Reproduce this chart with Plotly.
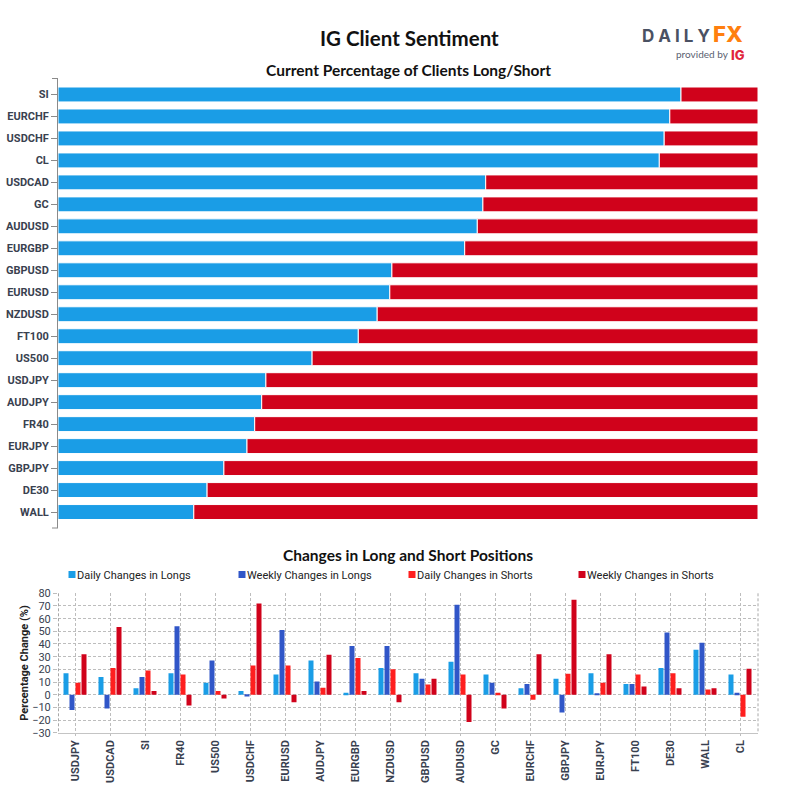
import plotly.graph_objects as go

sent_cats = ["SI","EURCHF","USDCHF","CL","USDCAD","GC","AUDUSD","EURGBP","GBPUSD","EURUSD",
             "NZDUSD","FT100","US500","USDJPY","AUDJPY","FR40","EURJPY","GBPJPY","DE30","WALL"]
long_pct = [89,87.4,86.6,85.9,61.1,60.7,59.9,58.1,47.7,47.4,45.6,42.9,36.3,29.7,29.1,28.1,27,23.7,21.3,19.4]
short_pct = [100-v for v in long_pct]

chg_cats = ["USDJPY","USDCAD","SI","FR40","US500","USDCHF","EURUSD","AUDJPY","EURGBP","NZDUSD",
            "GBPUSD","AUDUSD","GC","EURCHF","GBPJPY","EURJPY","FT100","DE30","WALL","CL"]
daily_longs  = [17,14,5,17,9.5,3,16,27,1.5,21,17,26,16,5,12.5,17,8.5,21,35.5,16]
weekly_longs = [-12,-11,14,54,27,-1.5,51,10.5,38.5,38.5,12.5,71,9.5,8.5,-14,1,8.5,49,41,1.5]
daily_shorts = [9.5,21,19,16,3,23,23,5.5,29,20,8,16,1.5,-4,16.5,9.5,16,17,4,-17.5]
weekly_shorts= [32,53.5,3,-8.5,-3,72,-6,31.5,3,-6,12.5,-21.5,-11,32,75,32,6.5,5,5,20.5]

BLUE, DBLUE, RED, DRED = "#1a9de6", "#3056c8", "#ff1f1f", "#d0021b"
INK = "#39414f"
LABEL = "Roboto, sans-serif"
HEAD = "Lato, sans-serif"
W = H = 800.0

fig = go.Figure()
fig.add_bar(y=sent_cats, x=long_pct, orientation="h", marker=dict(color=BLUE, line=dict(color="white", width=1)),
            xaxis="x", yaxis="y", showlegend=False, name="Long")
fig.add_bar(y=sent_cats, x=short_pct, orientation="h", marker=dict(color=DRED, line=dict(color="white", width=1)),
            xaxis="x", yaxis="y", showlegend=False, name="Short")

for i, (name, vals, col) in enumerate([("Daily Changes in Longs", daily_longs, BLUE),
                        ("Weekly Changes in Longs", weekly_longs, DBLUE),
                        ("Daily Changes in Shorts", daily_shorts, RED),
                        ("Weekly Changes in Shorts", weekly_shorts, DRED)]):
    fig.add_trace(go.Bar(x=chg_cats, y=vals, name=name, marker=dict(color=col, line=dict(width=0)),
                         xaxis="x2", yaxis="y2", offsetgroup=name, width=5/35.0, offset=(-12 + 6*i)/35.0))

def px(v):
    return v / W
def py(v):
    return 1 - v / H

GRID = "#bdbdbd"
seg = dict(type="line", xref="paper", yref="paper")
shapes = [
    dict(seg, x0=px(58), x1=px(52), y0=py(78.5), y1=py(78.5), line=dict(color="#8a8a8a", width=1)),
    dict(seg, x0=px(58), x1=px(52), y0=py(528), y1=py(528), line=dict(color="#8a8a8a", width=1)),
    dict(seg, x0=px(58.5), x1=px(58.5), y0=py(593.3), y1=py(732.7), line=dict(color="#a8a8a8", width=1, dash="3px,2px")),
    dict(seg, x0=px(758), x1=px(758), y0=py(593.3), y1=py(732.7), line=dict(color="#a8a8a8", width=1, dash="3px,2px")),
]

def note(text, x, y, size, color="#111111", family=HEAD, weight=700, anchor="center"):
    return dict(text=text, x=px(x), y=py(y), xref="paper", yref="paper", showarrow=False,
                xanchor=anchor, yanchor="middle", font=dict(size=size, color=color, family=family, weight=weight))

annotations = [
    note("IG Client Sentiment", 409, 38, 20.5),
    note("Current Percentage of Clients Long/Short", 408, 70, 15.5),
    note("Changes in Long and Short Positions", 408, 555, 15.5),
    note("D A I L Y", 640, 36, 17, "#4a5163", "Inter, sans-serif", 700, "left"),
    note("FX", 711, 34, 22, "#ff7f0e", "Inter, sans-serif", 800, "left"),
    note("provided by", 674, 54, 10, "#5a6170", "Lato, sans-serif", 400, "left"),
    note("IG", 729, 55, 13, "#e0263c", "Inter, sans-serif", 800, "left"),
]

fig.update_layout(
    width=800, height=800, margin=dict(l=0, r=0, t=0, b=0), paper_bgcolor="white", plot_bgcolor="white",
    barmode="relative", bargap=0.32, shapes=shapes, annotations=annotations,
    font=dict(family=LABEL, color=INK),
    legend=dict(orientation="h", x=px(37), y=py(560), xanchor="left", yanchor="top",
                entrywidth=125, entrywidthmode="pixels", itemwidth=30,
                font=dict(size=11, color="#222222", family=LABEL), bgcolor="rgba(0,0,0,0)",
                itemclick=False, itemdoubleclick=False),
    xaxis=dict(domain=[px(58), px(758)], range=[0, 100], anchor="y", visible=False, fixedrange=True, automargin=False),
    yaxis=dict(domain=[py(528), py(78.5)], range=[19.727, -0.727], anchor="x", type="category",
               categoryorder="array", categoryarray=sent_cats, ticks="outside", ticklen=6, tickcolor="#8a8a8a",
               showline=True, linecolor="#8a8a8a", linewidth=1, showgrid=False, zeroline=False, automargin=False,
               tickfont=dict(size=11, color=INK, family=LABEL, weight=700), fixedrange=True),
    xaxis2=dict(domain=[px(58), px(758)], anchor="y2", type="category", categoryorder="array", categoryarray=chg_cats,
                tickangle=-90, ticks="outside", ticklen=2, tickcolor=GRID, showline=True, linecolor="#c4c4c4", linewidth=1,
                showgrid=True, gridcolor=GRID, griddash="3px,2px", gridwidth=1, automargin=False,
                tickfont=dict(size=11, color=INK, family=LABEL, weight=700), fixedrange=True),
    yaxis2=dict(domain=[py(732.7), py(593.3)], range=[-30, 80], anchor="x2", dtick=10, tick0=0,
                ticks="outside", ticklen=4, tickcolor=GRID, showgrid=True, gridcolor=GRID, griddash="3px,2px", gridwidth=1,
                zeroline=False, showline=False, tickfont=dict(size=11, color=INK, family=LABEL), automargin=False,
                title=dict(text="Percentage Change (%)", font=dict(size=11, color="#222222", family=LABEL, weight=700), standoff=1),
                fixedrange=True),
)

fig.write_html("out.html", config=dict(displayModeBar=False),
               post_script="document.body.style.margin='0';"
                           "document.querySelectorAll('.legend .legendpoints path').forEach(function(p){"
                           "p.setAttribute('d','M11.5,-3.5h7v7h-7z');});")
